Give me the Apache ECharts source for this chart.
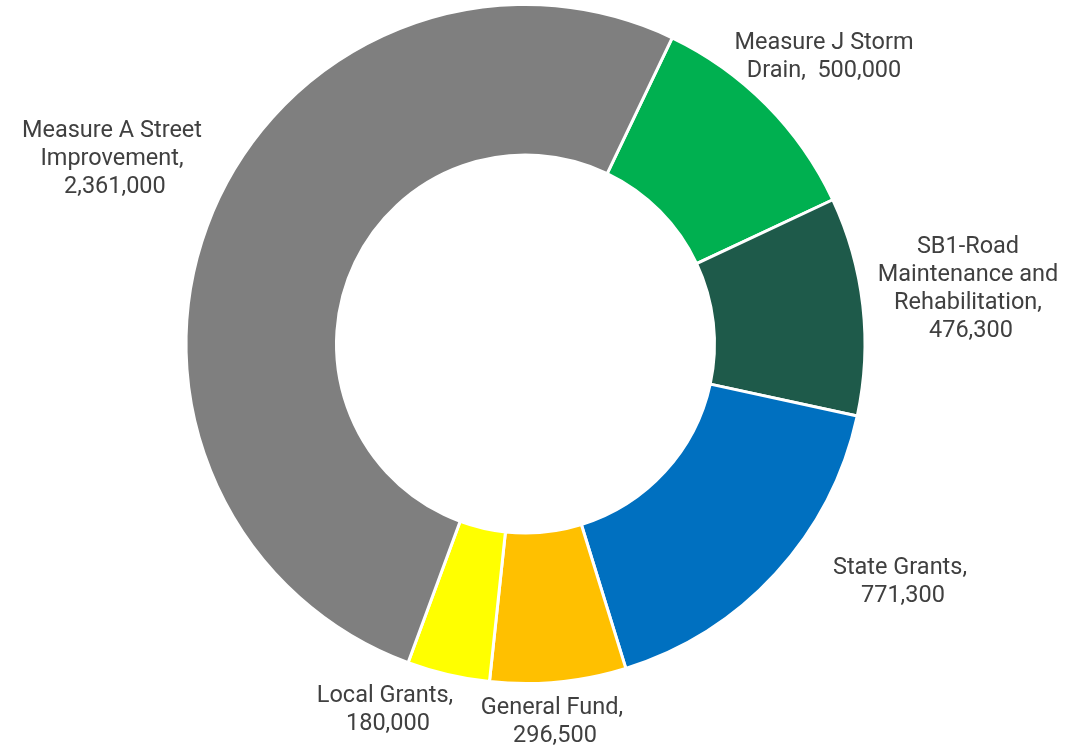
<!DOCTYPE html>
<html>
<head>
<meta charset="utf-8">
<script src="https://cdn.jsdelivr.net/npm/echarts@6/dist/echarts.min.js"></script>
<style>
  html, body { margin: 0; padding: 0; background: #ffffff; }
  #chart { width: 1087px; height: 747px; }
</style>
</head>
<body>
<div id="chart"></div>
<script>
// Funding sources, in clockwise order from the top
const categories = [
  'Measure J Storm Drain',
  'SB1-Road Maintenance and Rehabilitation',
  'State Grants',
  'General Fund',
  'Local Grants',
  'Measure A Street Improvement'
];
// Label text as broken over lines
const labelNames = [
  'Measure J Storm\nDrain, ',
  'SB1-Road\nMaintenance and\nRehabilitation,\n',
  'State Grants,\n',
  'General Fund,\n',
  'Local Grants,\n',
  'Measure A Street\nImprovement,\n'
];
const amounts = [500000, 476300, 771300, 296500, 180000, 2361000];
const colors = ['#00B050', '#1E5A4A', '#0070C0', '#FFC000', '#FFFF00', '#7F7F7F'];

// Label anchor points (label block centres)
const labelAnchors = [
  [824, 57],
  [968, 289],
  [900, 582],
  [552, 722],
  [385, 710],
  [112, 159]
];

const fmt = v => v.toLocaleString('en-US');

const chart = echarts.init(document.getElementById('chart'), null, { renderer: 'canvas' });
chart.setOption({
  animation: false,
  backgroundColor: '#ffffff',
  series: [{
    type: 'pie',
    center: [525.5, 344],
    radius: [189, 339.5],
    startAngle: 64.4,
    clockwise: true,
    avoidLabelOverlap: false,
    itemStyle: { borderColor: '#ffffff', borderWidth: 3 },
    label: {
      show: true,
      position: 'outside',
      color: '#404040',
      fontFamily: 'Roboto',
      fontSize: 23.5,
      lineHeight: 28,
      align: 'center',
      formatter: p => labelNames[p.dataIndex] + ' ' + fmt(p.value)
    },
    labelLine: { show: false },
    labelLayout: p => ({
      x: labelAnchors[p.dataIndex][0],
      y: labelAnchors[p.dataIndex][1],
      align: 'center',
      verticalAlign: 'middle'
    }),
    data: categories.map((name, i) => ({
      name: name,
      value: amounts[i],
      itemStyle: { color: colors[i] }
    }))
  }]
});
</script>
</body>
</html>
